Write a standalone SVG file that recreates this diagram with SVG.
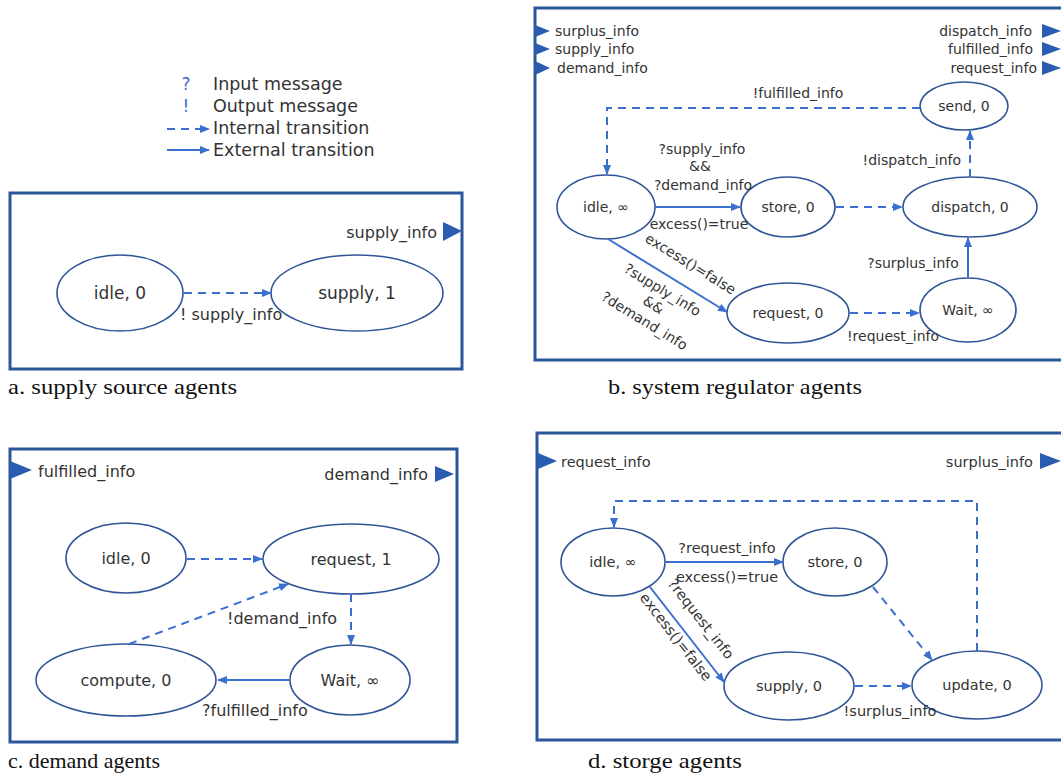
<svg xmlns="http://www.w3.org/2000/svg" width="1061" height="773" viewBox="0 0 1061 773">
<style>
.box{fill:none;stroke:#2b579a;stroke-width:3}
.st{fill:#fff;stroke:#2f5597;stroke-width:1.6}
.t{font-family:"DejaVu Sans",sans-serif;fill:#333;}
.c{text-anchor:middle}
.e{text-anchor:end}
.sol{fill:none;stroke:#3a6fcf;stroke-width:2;marker-end:url(#ah)}
.das{fill:none;stroke:#3a6fcf;stroke-width:2;stroke-dasharray:8 6;marker-end:url(#ah)}
.port{fill:#2a5db0}
.cap{font-family:"Liberation Serif",serif;font-size:22px;fill:#111}
</style>
<defs>
<marker id="ah" viewBox="0 0 10 10" refX="9" refY="5" markerWidth="10" markerHeight="10" markerUnits="userSpaceOnUse" orient="auto"><path d="M0,1 L10,5 L0,9 z" fill="#3a6fcf"/></marker>
</defs>
<rect width="1061" height="773" fill="#fff"/>

<g id="legend">
<text class="t" x="186" y="90" font-size="17" style="fill:#3a6fcf" text-anchor="middle">?</text>
<text class="t" x="213" y="90" font-size="17.5">Input message</text>
<text class="t" x="186" y="112" font-size="17" style="fill:#3a6fcf" text-anchor="middle">!</text>
<text class="t" x="213" y="112" font-size="17.5">Output message</text>
<line class="das" x1="167" y1="129" x2="209" y2="129" stroke-dasharray="7 6"/>
<text class="t" x="213" y="134" font-size="17.5">Internal transition</text>
<line class="sol" x1="167" y1="150" x2="209" y2="150"/>
<text class="t" x="213" y="156" font-size="17.5">External transition</text>
</g>

<!-- Panel a -->
<g id="panel-a">
<rect class="box" x="10" y="193" width="452" height="176"/>
<polygon class="port" points="443,222 462,231 443,241"/>
<text class="t e" x="437" y="238" font-size="16">supply_info</text>
</g>
<g id="a-idle"><ellipse class="st" cx="120" cy="293" rx="63" ry="38"/><text class="t c" x="120" y="299" font-size="17">idle, 0</text></g>
<g id="a-supply"><ellipse class="st" cx="357" cy="293" rx="86" ry="38"/><text class="t c" x="357" y="299" font-size="17">supply, 1</text></g>

<!-- Panel b -->
<g id="panel-b">
<rect class="box" x="535" y="8" width="540" height="352"/>
<polygon class="port" points="535,25 550,31 535,37"/>
<polygon class="port" points="535,43 550,49 535,55"/>
<polygon class="port" points="535,61 550,68 535,75"/>
<text class="t" x="555" y="36" font-size="14">surplus_info</text>
<text class="t" x="555" y="54" font-size="14">supply_info</text>
<text class="t" x="557" y="73" font-size="14">demand_info</text>
<polygon class="port" points="1042,24 1061,31 1042,38"/>
<polygon class="port" points="1042,42 1061,49 1042,56"/>
<polygon class="port" points="1042,61 1061,68 1042,75"/>
<text class="t e" x="1032" y="36" font-size="14">dispatch_info</text>
<text class="t e" x="1033" y="54" font-size="14">fulfilled_info</text>
<text class="t e" x="1037" y="73" font-size="14">request_info</text>
</g>
<g id="b-send"><ellipse class="st" cx="964" cy="106" rx="44" ry="24"/><text class="t c" x="964" y="111" font-size="14">send, 0</text></g>
<g id="b-idle"><ellipse class="st" cx="606" cy="207" rx="49" ry="32"/><text class="t c" x="606" y="212" font-size="14">idle, ∞</text></g>
<g id="b-store"><ellipse class="st" cx="788" cy="207" rx="47" ry="30"/><text class="t c" x="788" y="212" font-size="14">store, 0</text></g>
<g id="b-dispatch"><ellipse class="st" cx="970" cy="207" rx="67" ry="30"/><text class="t c" x="970" y="212" font-size="14">dispatch, 0</text></g>
<g id="b-request"><ellipse class="st" cx="788" cy="313" rx="61" ry="30"/><text class="t c" x="788" y="318" font-size="14">request, 0</text></g>
<g id="b-wait"><ellipse class="st" cx="968" cy="310" rx="48" ry="32"/><text class="t c" x="968" y="315" font-size="14">Wait, ∞</text></g>

<!-- Panel c -->
<g id="panel-c">
<rect class="box" x="10" y="449" width="447" height="293"/>
<polygon class="port" points="10,461 32,470 10,479"/>
<text class="t" x="38" y="477" font-size="16">fulfilled_info</text>
<polygon class="port" points="435,466 454,474 435,482"/>
<text class="t e" x="428" y="480" font-size="16">demand_info</text>
</g>
<g id="c-idle"><ellipse class="st" cx="126" cy="558" rx="60" ry="35"/><text class="t c" x="126" y="564" font-size="16">idle, 0</text></g>
<g id="c-request"><ellipse class="st" cx="351" cy="559" rx="88" ry="35"/><text class="t c" x="351" y="565" font-size="16">request, 1</text></g>
<g id="c-compute"><ellipse class="st" cx="126" cy="680" rx="90" ry="36"/><text class="t c" x="126" y="686" font-size="16">compute, 0</text></g>
<g id="c-wait"><ellipse class="st" cx="350" cy="680" rx="60" ry="35"/><text class="t c" x="350" y="686" font-size="16">Wait, ∞</text></g>

<!-- Panel d -->
<g id="panel-d">
<rect class="box" x="537" y="433" width="540" height="307"/>
<polygon class="port" points="538,453 557,461 538,469"/>
<text class="t" x="561" y="467" font-size="14.5">request_info</text>
<polygon class="port" points="1040,453 1061,461 1040,469"/>
<text class="t e" x="1033" y="467" font-size="14.5">surplus_info</text>
</g>
<g id="d-idle"><ellipse class="st" cx="613" cy="562" rx="52" ry="34"/><text class="t c" x="613" y="567" font-size="14.5">idle, ∞</text></g>
<g id="d-store"><ellipse class="st" cx="835" cy="562" rx="52" ry="34"/><text class="t c" x="835" y="567" font-size="14.5">store, 0</text></g>
<g id="d-supply"><ellipse class="st" cx="789" cy="686" rx="65" ry="34"/><text class="t c" x="789" y="691" font-size="14.5">supply, 0</text></g>
<g id="d-update"><ellipse class="st" cx="977" cy="685" rx="65" ry="34"/><text class="t c" x="977" y="690" font-size="14.5">update, 0</text></g>

<g id="connectors">
<line class="das" x1="184" y1="293" x2="271" y2="293"/>
<polyline class="das" points="920,108 607,108 607,174"/>
<line class="sol" x1="655" y1="207" x2="740" y2="207"/>
<line class="das" x1="836" y1="207" x2="902" y2="207"/>
<line class="das" x1="970" y1="177" x2="970" y2="131"/>
<line class="sol" x1="608" y1="239" x2="727" y2="312"/>
<line class="das" x1="850" y1="313" x2="919" y2="313"/>
<line class="sol" x1="968" y1="278" x2="968" y2="238"/>
<line class="das" x1="187" y1="559" x2="262" y2="559"/>
<line class="das" x1="351" y1="594" x2="351" y2="644"/>
<line class="das" x1="129" y1="644" x2="288" y2="584"/>
<line class="sol" x1="290" y1="680" x2="218" y2="680"/>
<polyline class="das" points="977,651 977,501 614,501 614,527"/>
<line class="sol" x1="665" y1="562" x2="783" y2="562"/>
<line class="das" x1="873" y1="587" x2="932" y2="660"/>
<line class="sol" x1="650" y1="587" x2="724" y2="682"/>
<line class="das" x1="855" y1="686" x2="911" y2="686"/>
</g>

<g id="labels">
<text class="t" x="180" y="320" font-size="16">! supply_info</text>
<text class="t c" x="798" y="98" font-size="14">!fulfilled_info</text>
<text class="t c" x="702" y="154" font-size="14">?supply_info</text>
<text class="t c" x="700" y="171" font-size="14">&amp;&amp;</text>
<text class="t c" x="703" y="190" font-size="14">?demand_info</text>
<text class="t c" x="699" y="229" font-size="14">excess()=true</text>
<text class="t e" x="961" y="165" font-size="14">!dispatch_info</text>
<text class="t c" x="913" y="268" font-size="14">?surplus_info</text>
<text class="t c" x="893" y="341" font-size="14">!request_info</text>
<text class="t c" font-size="14" transform="translate(688,268) rotate(31.5)">excess()=false</text>
<text class="t c" font-size="14" transform="translate(660,294) rotate(31.5)">?supply_info</text>
<text class="t c" font-size="14" transform="translate(651,309) rotate(31.5)">&amp;&amp;</text>
<text class="t c" font-size="14" transform="translate(642,325) rotate(31.5)">?demand_info</text>
<text class="t" x="227" y="624" font-size="16">!demand_info</text>
<text class="t" x="202" y="716" font-size="16">?fulfilled_info</text>
<text class="t c" x="727" y="553" font-size="14.5">?request_info</text>
<text class="t c" x="727" y="582" font-size="14.5">excess()=true</text>
<text class="t c" font-size="14.5" transform="translate(697,622) rotate(52)">?request_info</text>
<text class="t c" font-size="14.5" transform="translate(672,640) rotate(52)">excess()=false</text>
<text class="t c" x="890" y="716" font-size="14.5">!surplus_info</text>
</g>

<g id="captions">
<text class="cap" x="8" y="394" textLength="229" lengthAdjust="spacingAndGlyphs">a. supply source agents</text>
<text class="cap" x="608" y="394" textLength="254" lengthAdjust="spacingAndGlyphs">b. system regulator agents</text>
<text class="cap" x="8" y="768" textLength="152" lengthAdjust="spacingAndGlyphs">c. demand agents</text>
<text class="cap" x="588" y="768" textLength="154" lengthAdjust="spacingAndGlyphs">d. storge agents</text>
</g>
</svg>
